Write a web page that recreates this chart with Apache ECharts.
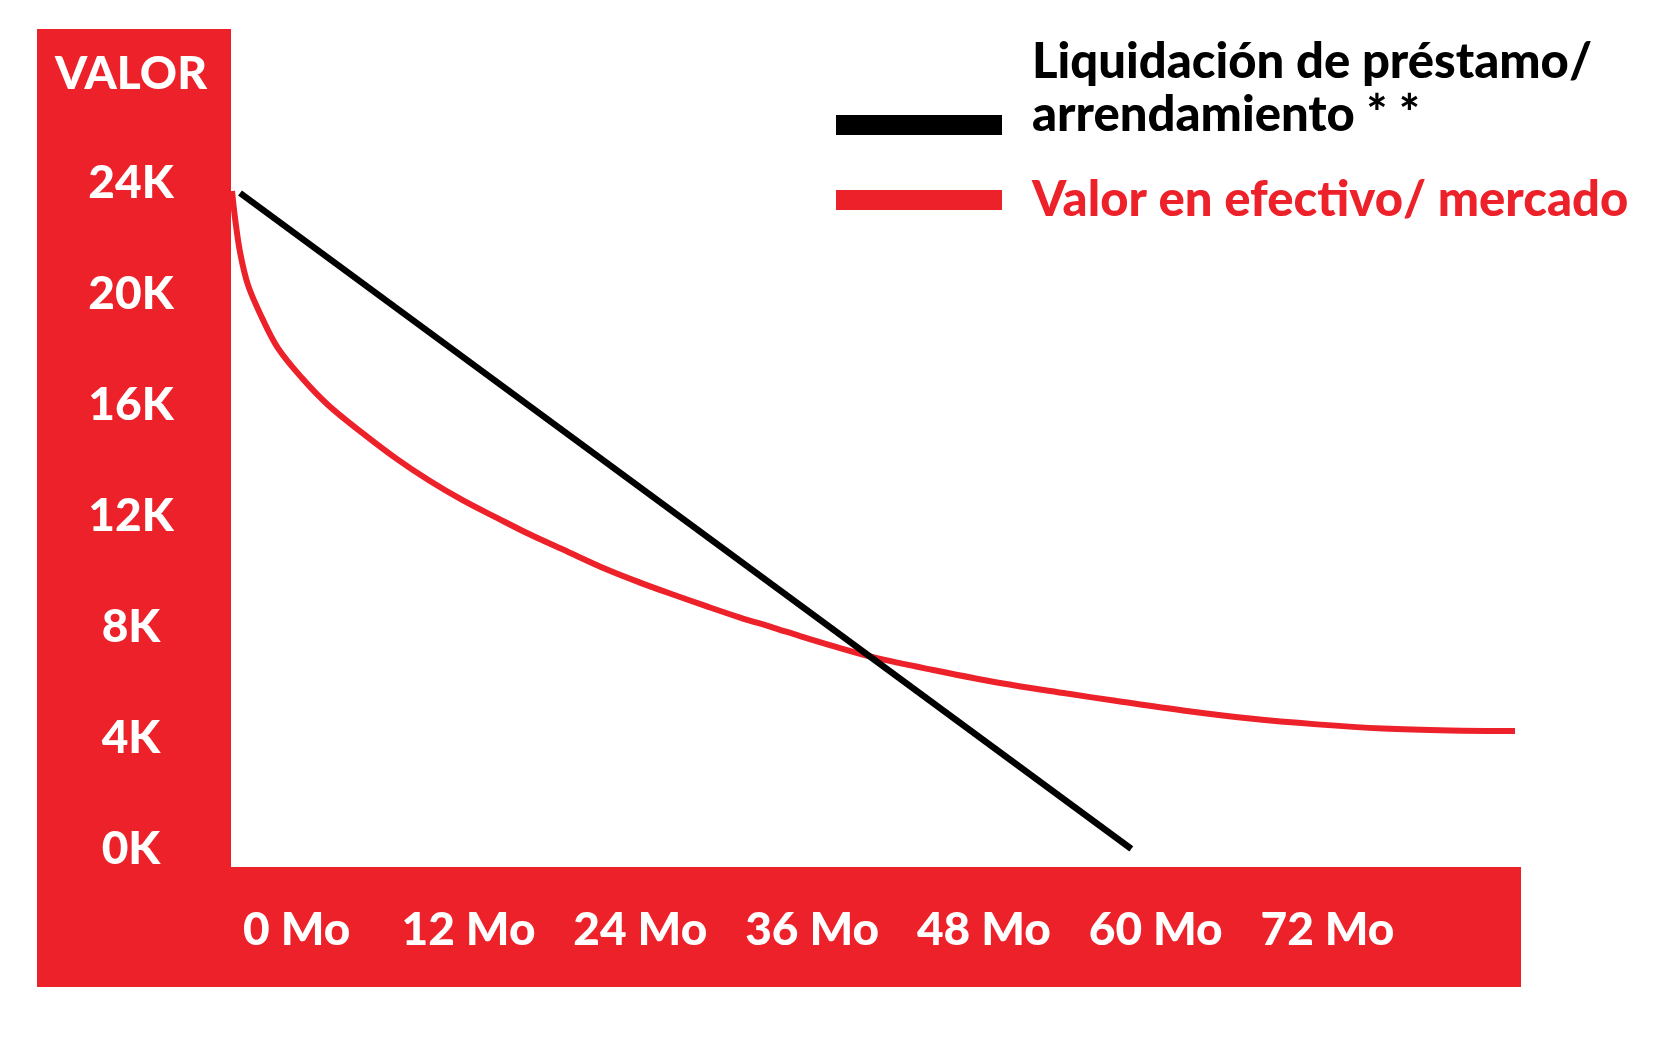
<!DOCTYPE html>
<html><head><meta charset="utf-8">
<script src="https://cdn.jsdelivr.net/npm/echarts@6/dist/echarts.min.js"></script>
<style>html,body{margin:0;padding:0;background:#fff}#c{width:1667px;height:1042px}</style>
</head><body><div id="c"></div>
<script>
// Data (months, thousands of dollars)
const loanMonths = [-3.96, 58.3];
const loanValues = [23.64, 0];
const marketMonths = [-4.52, -4.31, -3.96, -3.40, -2.42, -1.31, 0.37, 2.19, 4.42, 7.01, 9.31, 11.62, 13.99, 16.30, 18.60, 21.67, 23.98, 26.28, 28.66, 30.97, 33.27, 35.16, 37.67, 40.19, 44.45, 49.13, 53.81, 57.30, 61.91, 66.59, 71.27, 75.88, 80.56, 85.10];
const marketValues = [23.71, 22.74, 21.51, 20.32, 19.14, 18.05, 16.97, 16.00, 15.06, 14.05, 13.26, 12.56, 11.93, 11.33, 10.79, 10.07, 9.60, 9.17, 8.74, 8.34, 7.98, 7.67, 7.28, 6.92, 6.45, 5.98, 5.60, 5.33, 4.99, 4.70, 4.49, 4.34, 4.27, 4.25];
const xTickValues = [0, 12, 24, 36, 48, 60, 72];
const yTickValues = [0, 4, 8, 12, 16, 20, 24];
const seriesNames = ['Liquidación de préstamo/ arrendamiento * *', 'Valor en efectivo/ mercado'];
const legendLines = [['Liquidación de préstamo/', 'arrendamiento * *'], ['Valor en efectivo/ mercado']];
const yAxisTitle = 'VALOR';

const RED = '#ED2129';
const FONT = 'Lato';
const chart = echarts.init(document.getElementById('c'), null, {renderer: 'canvas'});

const zip = (xs, ys) => xs.map((x, i) => [x, ys[i]]);

chart.setOption({
  backgroundColor: '#fff',
  animation: false,
  grid: {left: 231, right: 146, top: 29, bottom: 175, outerBoundsMode: 'none', containLabel: false},
  xAxis: {
    type: 'value', min: -4.59, max: 85.52,
    axisLine: {show: false}, axisTick: {show: false}, splitLine: {show: false},
    axisLabel: {
      customValues: xTickValues, formatter: v => v + ' Mo',
      color: '#fff', fontFamily: FONT, fontWeight: 900, fontSize: 46,
      margin: 63, verticalAlign: 'middle', showMinLabel: true, showMaxLabel: true
    }
  },
  yAxis: {
    type: 'value', min: -0.65, max: 29.55,
    axisLine: {show: false}, axisTick: {show: false}, splitLine: {show: false},
    axisLabel: {
      customValues: yTickValues, formatter: v => v + 'K',
      color: '#fff', fontFamily: FONT, fontWeight: 900, fontSize: 46,
      margin: 100, align: 'center', padding: [9, 0, 0, 0]
    }
  },
  series: [
    {name: seriesNames[0], type: 'line', data: zip(loanMonths, loanValues), symbol: 'none',
     lineStyle: {color: '#000', width: 6.5, cap: 'butt'}, z: 3},
    {name: seriesNames[1], type: 'line', data: zip(marketMonths, marketValues), symbol: 'none',
     smooth: 0.35,
     lineStyle: {color: RED, width: 6, cap: 'butt'}, z: 2}
  ],
  graphic: [
    {type: 'rect', z: -10, shape: {x: 37, y: 29, width: 194, height: 958}, style: {fill: RED}},
    {type: 'rect', z: -10, shape: {x: 37, y: 867, width: 1484, height: 120}, style: {fill: RED}},
    {type: 'text', z: 100, style: {text: yAxisTitle, x: 131, y: 74, align: 'center', verticalAlign: 'middle',
      fill: '#fff', font: '900 46px ' + FONT}},
    {type: 'rect', z: 100, shape: {x: 836, y: 115, width: 166, height: 20}, style: {fill: '#000'}},
    {type: 'rect', z: 100, shape: {x: 836, y: 190, width: 166, height: 20}, style: {fill: RED}},
    {type: 'text', z: 100, style: {text: legendLines[0][0], x: 1032, y: 62, align: 'left', verticalAlign: 'middle',
      fill: '#000', font: '900 49px ' + FONT}},
    {type: 'text', z: 100, style: {text: legendLines[0][1], x: 1032, y: 115, align: 'left', verticalAlign: 'middle',
      fill: '#000', font: '900 49px ' + FONT}},
    {type: 'text', z: 100, style: {text: legendLines[1][0], x: 1032, y: 200, align: 'left', verticalAlign: 'middle',
      fill: RED, font: '900 49px ' + FONT}}
  ]
});
</script>
</body></html>
